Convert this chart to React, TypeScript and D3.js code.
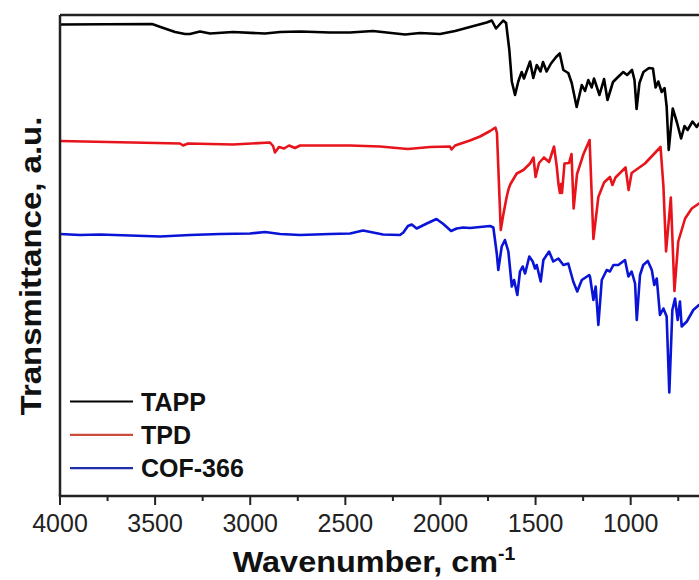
import React from "react";
import * as d3 from "d3";

// Wavenumber (cm-1) and transmittance (a.u., offset stacked)
const tappWn = [4000,3516,3464,3395,3343,3317,3264,3211,3091,2922,2843,2738,2581,2475,2355,2186,2107,2002,1923,1845,1757,1730,1708,1670,1655,1638,1625,1608,1591,1573,1561,1529,1512,1494,1474,1461,1442,1419,1392,1373,1354,1328,1310,1284,1257,1240,1223,1205,1193,1164,1140,1122,1093,1072,1039,1019,993,980,969,954,933,904,883,869,855,837,822,811,800,779,756,735,717,701,675,653,641,620];
const tappT = [94.3,94.4,93.7,92.8,92.4,92.4,92.9,92.5,92.8,92.5,92.8,92.9,92.7,92.7,93.0,92.3,92.6,92.4,93.0,93.8,94.7,95.1,93.5,95.1,94.6,89.2,82.9,80.2,82.9,84.8,83.5,86.9,83.6,86.2,84.9,86.8,84.9,86.5,87.8,88.5,85.2,84.6,82.6,77.8,82.2,81.0,83.2,81.7,83.5,80.2,83.4,79.2,82.8,83.6,84.8,84.2,85.2,83.2,77.4,82.6,84.8,85.6,85.5,81.7,82.9,80.8,81.6,77.9,69.2,77.5,74.6,71.5,74.0,73.2,74.9,73.8,74.5,74.5];

const tpdWn = [4000,3369,3353,3327,3091,2896,2880,2870,2849,2822,2796,2765,2738,2475,2318,2171,2055,1950,1942,1923,1845,1792,1739,1711,1703,1683,1670,1652,1642,1632,1599,1564,1529,1511,1500,1482,1456,1429,1403,1389,1379,1372,1366,1361,1348,1324,1311,1300,1282,1248,1216,1196,1170,1140,1109,1096,1080,1027,1011,995,925,843,828,814,789,770,750,714,679,641,620];
const tpdT = [71.0,70.5,70.1,70.5,70.3,70.7,70.0,68.7,69.8,69.5,70.1,69.6,70.1,70.1,69.9,69.4,69.8,69.9,69.3,70.1,71.1,71.9,73.0,73.7,72.6,53.2,56.2,59.8,61.4,62.4,64.5,65.2,66.5,67.7,63.8,66.6,67.7,66.8,69.9,66.0,62.2,60.6,62.4,60.6,66.5,66.6,68.4,57.5,64.4,68.4,71.2,51.4,59.8,62.7,63.8,62.2,63.7,65.7,61.2,64.6,66.5,69.8,62.0,48.9,59.7,41.0,50.9,55.5,57.5,58.5,59.0];

const cofWn = [4000,3895,3790,3632,3474,3317,3159,3001,2922,2843,2738,2581,2475,2407,2302,2213,2195,2171,2151,2125,2072,2021,1985,1944,1915,1880,1845,1739,1722,1704,1696,1678,1661,1643,1625,1613,1596,1582,1568,1555,1533,1515,1503,1494,1473,1459,1429,1407,1380,1354,1328,1302,1281,1257,1218,1214,1196,1184,1170,1152,1126,1109,1091,1065,1030,1012,995,977,968,951,934,910,889,876,863,846,828,811,797,781,767,753,741,732,705,671,641,620];
const cofT = [52.4,52.2,52.3,52.1,51.9,52.2,52.4,52.5,52.8,52.4,52.2,52.4,52.5,53.1,52.3,52.2,52.7,54.0,54.3,53.5,54.5,55.4,54.4,53.0,53.5,53.7,53.6,54.0,53.7,48.5,45.2,49.9,51.2,48.9,41.9,43.2,40.2,44.9,45.9,44.5,47.9,46.9,45.5,46.2,42.9,47.2,48.9,46.9,47.5,46.2,46.5,42.9,40.9,43.2,44.2,43.9,39.2,41.9,34.2,43.2,45.2,44.9,46.2,46.2,47.2,43.9,44.9,42.5,35.2,44.2,46.2,47.0,45.2,42.2,43.5,36.2,37.5,35.9,20.7,37.2,39.5,35.2,38.9,33.9,34.9,37.2,38.2,38.5];

const seriesNames = ["TAPP", "TPD", "COF-366"];
const seriesColors = ["#000000", "#e8141c", "#0a14d6"];
const legendColors = ["#000000", "#cc4a3c", "#1e2fae"];
const majorTicks = [4000, 3500, 3000, 2500, 2000, 1500, 1000];
const minorTicks = [3750, 3250, 2750, 2250, 1750, 1250, 750];

export default function App() {
  const W = 699, H = 580;
  const left = 60, top = 15, bottom = 496, right = 699;
  const x = d3.scaleLinear().domain([4000, 400]).range([left, left + 3600 * 0.19023]);
  const y = d3.scaleLinear().domain([0, 96.2]).range([bottom, top]);
  const line = d3.line<[number, number]>().x(d => x(d[0])).y(d => y(d[1]));
  const series = [
    d3.zip(tappWn, tappT) as [number, number][],
    d3.zip(tpdWn, tpdT) as [number, number][],
    d3.zip(cofWn, cofT) as [number, number][],
  ];
  const font = "'Liberation Sans', Arial, Helvetica, sans-serif";
  return (
    <svg width={W} height={H} style={{ position: "absolute", left: 0, top: 0, background: "#fff" }}>
      <defs>
        <clipPath id="plot">
          <rect x={left} y={top} width={right - left} height={bottom - top} />
        </clipPath>
      </defs>
      <g clipPath="url(#plot)">
        {series.map((s, i) => (
          <path key={i} d={line(s) || ""} fill="none" stroke={seriesColors[i]} strokeWidth={2.6} strokeLinejoin="round" />
        ))}
      </g>
      {/* frame */}
      <line x1={left} x2={right} y1={top} y2={top} stroke="#222" strokeWidth={2.5} />
      <line x1={left} x2={left} y1={top} y2={bottom} stroke="#222" strokeWidth={2.5} />
      <line x1={left - 1.2} x2={right} y1={bottom} y2={bottom} stroke="#222" strokeWidth={2.5} />
      {majorTicks.map(t => (
        <g key={t}>
          <line x1={x(t)} x2={x(t)} y1={bottom} y2={bottom + 9} stroke="#222" strokeWidth={2} />
          <text x={x(t)} y={532} textAnchor="middle" fontFamily={font} fontSize={25} fill="#222">{t}</text>
        </g>
      ))}
      {minorTicks.map(t => (
        <line key={t} x1={x(t)} x2={x(t)} y1={bottom} y2={bottom + 5} stroke="#222" strokeWidth={2} />
      ))}
      <text transform="translate(374,572) scale(1.08,1)" textAnchor="middle" fontFamily={font} fontSize={30} fontWeight="bold" fill="#111">
        Wavenumber, cm<tspan dy={-12} fontSize={18}>-1</tspan>
      </text>
      <text transform="translate(41,266) rotate(-90) scale(1.1,1)" textAnchor="middle" fontFamily={font} fontSize={30} fontWeight="bold" fill="#111">
        Transmittance, a.u.
      </text>
      {seriesNames.map((n, i) => {
        const ly = 401.5 + i * 33.3;
        return (
          <g key={n}>
            <line x1={70} x2={133} y1={ly} y2={ly} stroke={legendColors[i]} strokeWidth={2.2} />
            <text x={141} y={ly + 9} fontFamily={font} fontSize={25} fontWeight="bold" fill="#111">{n}</text>
          </g>
        );
      })}
    </svg>
  );
}
